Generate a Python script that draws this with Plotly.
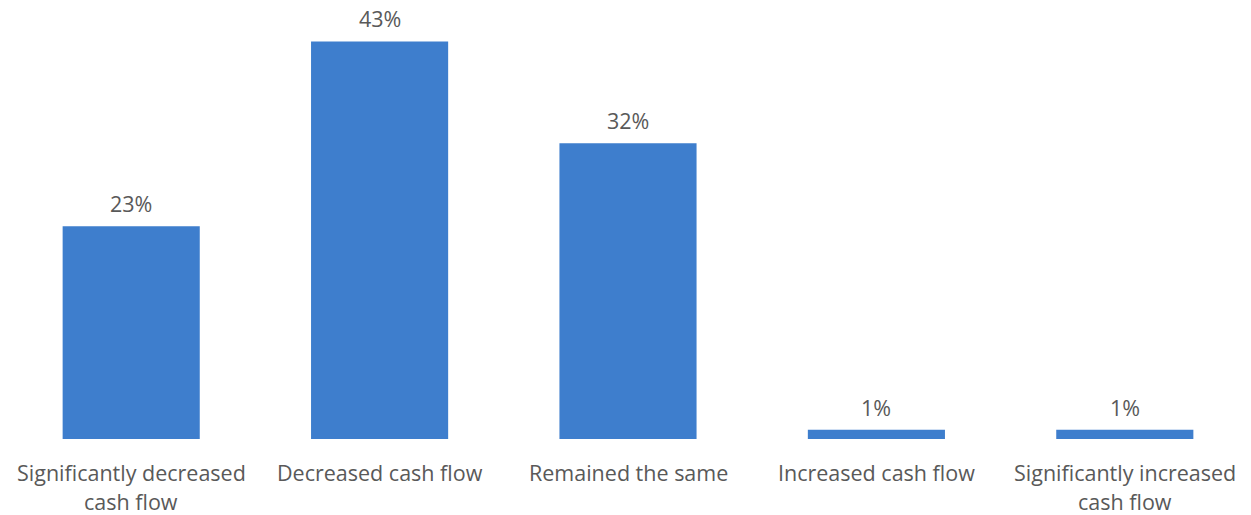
import plotly.graph_objects as go

categories = [
    "Significantly decreased\ncash flow",
    "Decreased cash flow",
    "Remained the same",
    "Increased cash flow",
    "Significantly increased\ncash flow",
]
shares = [23, 43, 32, 1, 1]

BAR_COLOR = "#3E7ECD"
TEXT_COLOR = "#595959"
FONT = "Open Sans"
FONT_SIZE = 21.5

fig = go.Figure(
    go.Bar(
        x=categories,
        y=shares,
        marker=dict(color=BAR_COLOR, line=dict(width=0)),
        hoverinfo="skip",
    )
)

# value labels above each bar
for c, v in zip(categories, shares):
    fig.add_annotation(
        x=c, y=v, text=f"{v}%", showarrow=False,
        yanchor="bottom", yshift=6,
        font=dict(family=FONT, size=FONT_SIZE, color=TEXT_COLOR),
    )

# category labels under the axis, one annotation per line for wider line spacing
for c in categories:
    for i, line in enumerate(c.split("\n")):
        fig.add_annotation(
            x=c, xref="x", y=0, yref="paper", text=line, showarrow=False,
            yanchor="middle", yshift=-33 - 29 * i,
            font=dict(family=FONT, size=FONT_SIZE, color=TEXT_COLOR),
        )

fig.update_layout(
    width=1251, height=515,
    margin=dict(l=7, r=2, t=10, b=76),
    paper_bgcolor="white", plot_bgcolor="white",
    bargap=0.448,
    showlegend=False,
    font=dict(family=FONT, size=FONT_SIZE, color=TEXT_COLOR),
)
fig.update_xaxes(
    showgrid=False, zeroline=False, showline=False, ticks="",
    showticklabels=False,
)
fig.update_yaxes(
    range=[0, 46.4], visible=False, showgrid=False, zeroline=False,
)

fig.write_html("out.html")
